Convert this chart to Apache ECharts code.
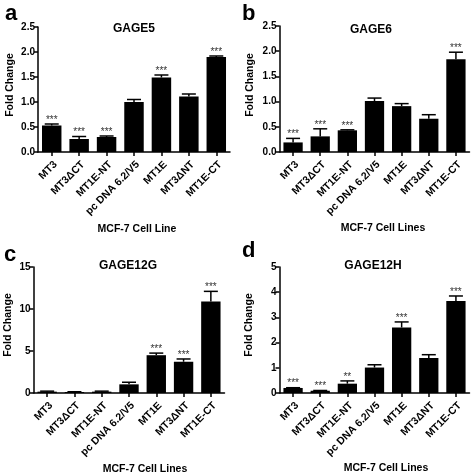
<!DOCTYPE html>
<html>
<head>
<meta charset="utf-8">
<script src="https://cdn.jsdelivr.net/npm/echarts@6/dist/echarts.min.js"></script>
<style>html,body{margin:0;padding:0;background:#fff}#chart{width:472px;height:476px}</style>
</head>
<body>
<div id="chart"></div>
<script>
const categories = ['MT3', 'MT3\u0394CT', 'MT1E-NT', 'pc DNA 6.2/V5', 'MT1E', 'MT3\u0394NT', 'MT1E-CT'];

const gage5Values = [0.53, 0.26, 0.30, 1.00, 1.49, 1.11, 1.90];
const gage5Upper  = [0.56, 0.31, 0.32, 1.05, 1.54, 1.16, 1.92];
const gage5Sig    = ['***', '***', '***', '', '***', '', '***'];

const gage6Values = [0.19, 0.31, 0.43, 1.01, 0.91, 0.66, 1.84];
const gage6Upper  = [0.27, 0.46, 0.44, 1.07, 0.96, 0.74, 1.98];
const gage6Sig    = ['***', '***', '***', '', '', '', '***'];

const gage12gValues = [0.16, 0.12, 0.16, 1.03, 4.50, 3.72, 10.9];
const gage12gUpper  = [0.22, 0.15, 0.22, 1.28, 4.75, 4.05, 12.1];
const gage12gSig    = ['', '', '', '', '***', '***', '***'];

const gage12hValues = [0.20, 0.09, 0.37, 1.01, 2.60, 1.39, 3.65];
const gage12hUpper  = [0.21, 0.10, 0.48, 1.12, 2.82, 1.52, 3.85];
const gage12hSig    = ['***', '***', '**', '', '***', '', '***'];

const yTicksAB = [0, 0.5, 1.0, 1.5, 2.0, 2.5];
const yTicksC = [0, 5, 10, 15];
const yTicksD = [0, 1, 2, 3, 4, 5];

const FONT = 'Liberation Sans, Arial, sans-serif';

const panels = [
  {title: 'GAGE5', letter: 'a', xName: 'MCF-7 Cell Line', values: gage5Values, upper: gage5Upper, sig: gage5Sig, ticks: yTicksAB, dec: 1,
   grid: {left: 38, top: 27, width: 192, height: 125}, titlePos: [129, 18], letterPos: [0, -2], xNamePos: [137, 229], yNamePos: [10, 85]},
  {title: 'GAGE6', letter: 'b', xName: 'MCF-7 Cell Lines', values: gage6Values, upper: gage6Upper, sig: gage6Sig, ticks: yTicksAB, dec: 1,
   grid: {left: 279.5, top: 26, width: 190, height: 126}, titlePos: [366, 19], letterPos: [237, -2], xNamePos: [383, 228], yNamePos: [250, 85]},
  {title: 'GAGE12G', letter: 'c', xName: 'MCF-7 Cell Lines', values: gage12gValues, upper: gage12gUpper, sig: gage12gSig, ticks: yTicksC, dec: 0,
   grid: {left: 33.5, top: 267, width: 191, height: 126}, titlePos: [123, 255], letterPos: [-1, 239], xNamePos: [145, 469], yNamePos: [8, 325]},
  {title: 'GAGE12H', letter: 'd', xName: 'MCF-7 Cell Lines', values: gage12hValues, upper: gage12hUpper, sig: gage12hSig, ticks: yTicksD, dec: 0,
   grid: {left: 279.5, top: 267, width: 190, height: 126}, titlePos: [368, 255], letterPos: [237, 235], xNamePos: [386, 468], yNamePos: [249, 325]}
];

const chart = echarts.init(document.getElementById('chart'), null, {renderer: 'canvas'});

const option = {
  backgroundColor: '#fff',
  animation: false,
  title: [],
  grid: [],
  xAxis: [],
  yAxis: [],
  series: [],
  graphic: []
};

panels.forEach((p, i) => {
  option.grid.push(Object.assign({containLabel: false}, p.grid));
  option.title.push({
    text: p.title, left: p.titlePos[0], top: p.titlePos[1], textAlign: 'center',
    textStyle: {fontFamily: FONT, fontSize: 12, fontWeight: 'bold', color: '#000'}
  });
  option.title.push({
    text: p.letter, left: p.letterPos[0], top: p.letterPos[1],
    textStyle: {fontFamily: FONT, fontSize: 22, fontWeight: 'bold', color: '#000'}
  });
  option.xAxis.push({
    type: 'category', gridIndex: i, data: categories,
    axisLine: {show: true, lineStyle: {color: '#000', width: 1.5}},
    axisTick: {show: true, alignWithLabel: true, length: 4, lineStyle: {color: '#000', width: 1.5}},
    axisLabel: {interval: 0, rotate: 45, margin: 7, verticalAlign: 'top', fontFamily: FONT, fontSize: 10.5, fontWeight: 'bold', color: '#000'},
    splitLine: {show: false}
  });
  const tmax = p.ticks[p.ticks.length - 1];
  option.yAxis.push({
    type: 'value', gridIndex: i, min: p.ticks[0], max: tmax, interval: p.ticks[1] - p.ticks[0],
    axisLine: {show: true, lineStyle: {color: '#000', width: 1.5}},
    axisTick: {show: true, length: 4, lineStyle: {color: '#000', width: 1.5}},
    axisLabel: {margin: 3, fontFamily: FONT, fontSize: 10, fontWeight: 'bold', color: '#000',
      formatter: v => v.toFixed(p.dec)},
    splitLine: {show: false}
  });
  option.series.push({
    type: 'bar', xAxisIndex: i, yAxisIndex: i, data: p.values,
    barWidth: '71%', itemStyle: {color: '#000'}, silent: true
  });
  const sig = p.sig;
  option.series.push({
    type: 'custom', xAxisIndex: i, yAxisIndex: i, silent: true,
    data: p.values.map((v, k) => [k, v, p.upper[k]]),
    encode: {x: 0, y: [1, 2]},
    renderItem: (params, api) => {
      const base = api.coord([api.value(0), api.value(1)]);
      const top = api.coord([api.value(0), api.value(2)]);
      const half = 7;
      const children = [
        {type: 'line', shape: {x1: base[0], y1: base[1], x2: top[0], y2: top[1]}, style: {stroke: '#000', lineWidth: 1.5}},
        {type: 'line', shape: {x1: top[0] - half, y1: top[1], x2: top[0] + half, y2: top[1]}, style: {stroke: '#000', lineWidth: 1.5}}
      ];
      const s = sig[params.dataIndex];
      if (s) {
        children.push({type: 'text', x: top[0], y: top[1] + 1,
          style: {text: s, fill: '#333', font: '10px ' + FONT, textAlign: 'center', textVerticalAlign: 'bottom'}});
      }
      return {type: 'group', children};
    }
  });
  option.graphic.push({
    type: 'text', x: p.xNamePos[0], y: p.xNamePos[1],
    style: {text: p.xName, fill: '#000', font: 'bold 10.5px ' + FONT, textAlign: 'center', textVerticalAlign: 'middle'}
  });
  option.graphic.push({
    type: 'text', x: p.yNamePos[0], y: p.yNamePos[1], rotation: Math.PI / 2,
    style: {text: 'Fold Change', fill: '#000', font: 'bold 10.5px ' + FONT, textAlign: 'center', textVerticalAlign: 'middle'}
  });
});

chart.setOption(option);
</script>
</body>
</html>
